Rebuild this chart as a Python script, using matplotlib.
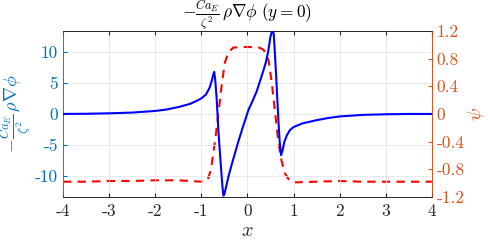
#!/usr/bin/env python3
import numpy as np
import matplotlib
matplotlib.use('Agg')
import matplotlib.pyplot as plt
from matplotlib.ticker import FuncFormatter

# blue curve: -Ca_E/zeta^2 rho grad(phi) along y = 0
force_x = [-4.0, -3.5, -3.0, -2.5, -2.0, -1.75, -1.5, -1.25, -1.1, -1.0, -0.9, -0.82,
           -0.77, -0.74, -0.72, -0.70, -0.67, -0.63, -0.60, -0.57, -0.54, -0.52, -0.50,
           -0.46, -0.41, -0.34, -0.27, -0.20, -0.12, -0.05, 0.02, 0.10, 0.20, 0.27,
           0.34, 0.40, 0.45, 0.50, 0.53, 0.55, 0.57, 0.59, 0.62, 0.64, 0.67, 0.70,
           0.73, 0.76, 0.80, 0.85, 0.92, 1.0, 1.2, 1.5, 1.75, 2.0, 2.5, 3.0, 3.5, 4.0]
force_y = [0.0, 0.03, 0.1, 0.22, 0.48, 0.72, 1.1, 1.6, 2.1, 2.5, 3.1, 4.2,
           5.4, 6.3, 6.75, 5.6, 2.8, -2.6, -5.8, -8.9, -11.8, -13.1, -12.9,
           -11.6, -10.0, -8.1, -6.3, -4.5, -2.6, -1.0, 0.6, 1.9, 3.6, 5.2,
           6.8, 8.3, 10.0, 12.4, 13.2, 13.4, 12.8, 10.5, 6.5, 3.6, -0.8, -4.5,
           -6.6, -5.9, -4.5, -3.5, -2.6, -2.1, -1.5, -1.0, -0.65, -0.4, -0.15, -0.05, 0.0, 0.0]

# red dashed curve: psi along y = 0
psi_x = [-4.0, -3.5, -3.0, -2.5, -2.0, -1.5, -1.0, -0.90, -0.85, -0.79, -0.70, -0.63,
         -0.56, -0.49, -0.42, -0.31, 0.0, 0.25, 0.35, 0.46, 0.53, 0.60, 0.67, 0.74,
         0.82, 0.92, 1.0, 1.5, 2.0, 2.5, 3.0, 4.0]
psi_y = [-0.98, -0.98, -0.97, -0.97, -0.96, -0.96, -0.98, -0.97, -0.93, -0.80, -0.38, 0.0,
         0.41, 0.74, 0.88, 0.96, 0.97, 0.96, 0.93, 0.77, 0.44, 0.02, -0.40, -0.68,
         -0.87, -0.97, -0.99, -0.98, -0.97, -0.98, -0.98, -0.98]

plt.rcParams['font.family'] = 'cmr10'
plt.rcParams['mathtext.fontset'] = 'cm'
plt.rcParams['axes.unicode_minus'] = False
plt.rcParams['axes.formatter.use_mathtext'] = True

left_c = '#0072BD'
right_c = '#D95319'
dark = '#262626'

fig = plt.figure(figsize=(4.88, 2.44), dpi=100)
ax = fig.add_axes([0.129, 0.193, 0.756, 0.68])
ax2 = ax.twinx()

ax.plot(force_x, force_y, color='#0000FF', lw=1.5, zorder=3)
ax2.plot(psi_x, psi_y, color='#FF0000', lw=1.5, ls=(0, (4, 3)))
ax.set_zorder(ax2.get_zorder() + 1)
ax.patch.set_visible(False)

ax.set_xlim(-4, 4)
ax.set_ylim(-13.3, 13.3)
ax2.set_ylim(-1.2, 1.2)
ax.set_xticks(range(-4, 5))
ax.set_yticks([-10, -5, 0, 5, 10])
ax2.set_yticks(np.round(np.arange(-1.2, 1.21, 0.4), 1))
fmt = FuncFormatter(lambda v, p: f'{v:g}')
ax.xaxis.set_major_formatter(fmt)
ax.yaxis.set_major_formatter(fmt)
ax2.yaxis.set_major_formatter(fmt)

ax.grid(True, color='#dfe6ee', lw=0.6)
fs = 12.5
ax.tick_params(axis='x', direction='in', colors=dark, labelsize=fs, length=3, top=True, pad=5)
ax.tick_params(axis='y', direction='in', colors=left_c, labelsize=fs, length=3)
ax2.tick_params(axis='y', direction='in', colors=right_c, labelsize=fs, length=3)
for a in (ax, ax2):
    a.spines['top'].set_color(dark)
    a.spines['bottom'].set_color(dark)
    a.spines['left'].set_color(left_c)
    a.spines['right'].set_color(right_c)
    for s in a.spines.values():
        s.set_linewidth(0.6)

ax.set_xlabel(r'$x$', fontsize=fs + 2, color=dark, labelpad=2)
ax.set_ylabel(r'$-\frac{Ca_E}{\zeta^2}\,\rho\nabla\phi$', fontsize=fs + 0.5, color=left_c)
ax.yaxis.set_label_coords(-0.08, 0.5)
ax2.set_ylabel(r'$\psi$', fontsize=fs + 1, color=right_c, rotation=90, labelpad=1)
ax.set_title(r'$-\frac{Ca_E}{\zeta^2}\,\rho\nabla\phi\ (y=0)$', fontsize=fs, color='black', pad=1)

fig.savefig('out.png', dpi=100)
